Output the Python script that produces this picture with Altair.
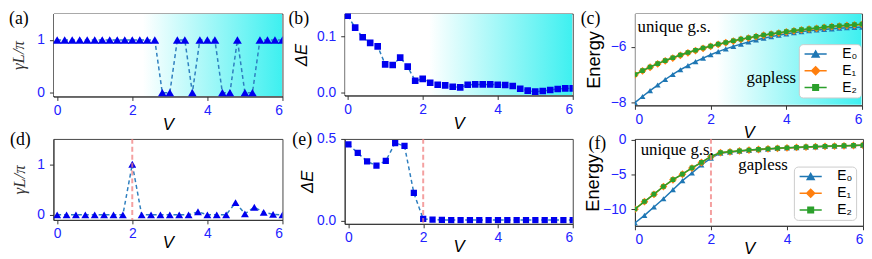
import altair as alt
import pandas as pd

# ---------------- data ----------------
V31 = [0.0, 0.2, 0.4, 0.6, 0.8, 1.0, 1.2, 1.4, 1.6, 1.8, 2.0, 2.2, 2.4, 2.6, 2.8, 3.0,
       3.2, 3.4, 3.6, 3.8, 4.0, 4.2, 4.4, 4.6, 4.8, 5.0, 5.2, 5.4, 5.6, 5.8, 6.0]
V25 = [0.0, 0.25, 0.5, 0.75, 1.0, 1.25, 1.5, 1.75, 2.0, 2.25, 2.5, 2.75, 3.0, 3.25,
       3.5, 3.75, 4.0, 4.25, 4.5, 4.75, 5.0, 5.25, 5.5, 5.75, 6.0]

gamma_a = [1, 1, 1, 1, 1, 1, 1, 1, 1, 1, 1, 1, 1, 1, 0, 0, 1, 1, 0, 1, 1, 1, 0, 0, 1,
           0, 0, 1, 1, 1, 1]
dE_b = [0.136, 0.115, 0.098, 0.088, 0.082, 0.050, 0.049, 0.062, 0.046, 0.021, 0.0245,
        0.0175, 0.014, 0.013, 0.0105, 0.0094, 0.014, 0.0146, 0.0146, 0.0146, 0.014,
        0.0135, 0.0117, 0.007, 0.0035, 0.0018, 0.003, 0.0047, 0.0064, 0.0076, 0.0076]
c_E0 = [-8.0, -7.78, -7.57, -7.37, -7.17, -6.99, -6.82, -6.67, -6.53, -6.40, -6.28,
        -6.17, -6.07, -5.98, -5.90, -5.82, -5.75, -5.69, -5.63, -5.58, -5.53, -5.49,
        -5.45, -5.42, -5.39, -5.37, -5.35, -5.33, -5.31, -5.30, -5.29]
c_E1 = [-7.0, -6.86, -6.73, -6.61, -6.50, -6.40, -6.30, -6.21, -6.13, -6.05, -5.98,
        -5.91, -5.85, -5.79, -5.73, -5.68, -5.63, -5.58, -5.54, -5.50, -5.46, -5.42,
        -5.39, -5.36, -5.33, -5.30, -5.27, -5.25, -5.23, -5.21, -5.19]
c_E2 = [-6.99, -6.85, -6.72, -6.60, -6.49, -6.39, -6.29, -6.20, -6.12, -6.04, -5.97,
        -5.90, -5.84, -5.78, -5.72, -5.67, -5.62, -5.57, -5.53, -5.49, -5.45, -5.41,
        -5.38, -5.35, -5.32, -5.29, -5.26, -5.24, -5.22, -5.20, -5.18]

gamma_d = [0, 0, 0, 0, 0, 0, 0, 0, 1.0, 0, 0, 0, 0, 0, 0, 0.06, 0, 0, 0, 0.24, 0.02,
           0.15, 0.05, 0.01, 0.0]
dE_e = [0.467, 0.414, 0.362, 0.337, 0.366, 0.475, 0.457, 0.169, 0.010, 0.006, 0.004,
        0.003, 0.003, 0.003, 0.003, 0.003, 0.003, 0.003, 0.003, 0.003, 0.003, 0.003,
        0.003, 0.003, 0.003]
f_E0 = [-12.0, -10.9, -9.7, -8.5, -7.2, -5.9, -4.8, -3.64, -2.67, -1.95, -1.80, -1.66,
        -1.54, -1.45, -1.36, -1.28, -1.21, -1.15, -1.09, -1.04, -0.99, -0.94, -0.90,
        -0.86, -0.82]
f_E1 = [-10.0, -8.93, -7.87, -6.76, -5.78, -4.98, -4.09, -3.29, -2.44, -1.88, -1.76,
        -1.63, -1.51, -1.42, -1.33, -1.25, -1.19, -1.13, -1.07, -1.02, -0.97, -0.93,
        -0.89, -0.85, -0.81]
f_E2 = [-9.98, -8.91, -7.85, -6.74, -5.76, -4.96, -4.07, -3.27, -2.42, -1.86, -1.74,
        -1.61, -1.49, -1.40, -1.31, -1.23, -1.17, -1.11, -1.05, -1.00, -0.95, -0.91,
        -0.87, -0.83, -0.79]

series_names = ["E\u2080", "E\u2081", "E\u2082"]
series_colors = ["#1f77b4", "#ff7f0e", "#2ca02c"]
series_shapes = ["triangle-up", "diamond", "square"]
series_sizes = [36, 62, 22]
x_ticks = [0, 2, 4, 6]

# ---------------- style ----------------
BLUE = "#0000ee"
LINE = "#2f7fbf"
CYAN = "#3ef0f0"
SANS = "Liberation Sans"
SERIF = "Liberation Serif"
one = pd.DataFrame({"k": [0]})

leg_paths = [
    "M-3.2,0H3.2M0,-0.866L-1,0.866L1,0.866Z",
    "M-3.2,0H3.2M-1.15,0L0,-1.15L1.15,0L0,1.15Z",
    "M-3.2,0H3.2M-0.8,-0.8H0.8V0.8H-0.8Z",
]


def xscale(dom):
    return alt.Scale(domain=dom, nice=False, zero=False)


def xaxis(tpad):
    return alt.Axis(title="V", titleFontStyle="italic", values=x_ticks, format="d",
                    labelPadding=3, titlePadding=tpad)


def background(w, h, start):
    grad = alt.LinearGradient(
        gradient="linear",
        stops=[alt.GradientStop(color="white", offset=0),
               alt.GradientStop(color="white", offset=start),
               alt.GradientStop(color=CYAN, offset=1)],
        x1=0, x2=1, y1=0, y2=0)
    return alt.Chart(one).mark_rect(fill=grad, strokeWidth=0).encode(
        x=alt.value(0.5), x2=alt.value(w - 0.5), y=alt.value(0.5), y2=alt.value(h - 0.5))


def label(txt, dx, dy):
    return alt.Chart(one).mark_text(text=txt, font=SERIF, fontSize=18, align="left",
                                    baseline="top", color="black").encode(
        x=alt.value(dx), y=alt.value(dy))


def note(txt, xv, yv):
    return alt.Chart(one).mark_text(text=txt, font=SERIF, fontSize=17, align="left",
                                    baseline="alphabetic", color="black").encode(
        x=alt.datum(xv), y=alt.datum(yv))


def vline():
    return alt.Chart(one).mark_rule(color="#f08080", opacity=0.75, strokeWidth=2,
                                    strokeDash=[5, 3]).encode(x=alt.datum(2))


def dashed_series(xs, ys, shape, size, xdom, ydom, yaxis, tpad):
    df = pd.DataFrame({"V": xs, "y": ys})
    enc = dict(x=alt.X("V:Q", scale=xscale(xdom), axis=xaxis(tpad)),
               y=alt.Y("y:Q", scale=alt.Scale(domain=ydom, nice=False, zero=False), axis=yaxis))
    line = alt.Chart(df).mark_line(color=LINE, strokeWidth=1.5, strokeDash=[4, 3],
                                   clip=True).encode(**enc)
    pts = alt.Chart(df).mark_point(shape=shape, size=size, filled=True, color=BLUE,
                                   opacity=1, clip=True).encode(**enc)
    return [line, pts]


def energy_series(xs, ys_list, xdom, ydom, yaxis, tpad):
    layers = []
    for i, ys in enumerate(ys_list):
        df = pd.DataFrame({"V": xs, "y": ys})
        enc = dict(x=alt.X("V:Q", scale=xscale(xdom), axis=xaxis(tpad)),
                   y=alt.Y("y:Q", scale=alt.Scale(domain=ydom, nice=False, zero=False),
                           axis=yaxis))
        layers.append(alt.Chart(df).mark_line(color=series_colors[i], strokeWidth=1.5,
                                              clip=True).encode(**enc))
        layers.append(alt.Chart(df).mark_point(shape=series_shapes[i], size=series_sizes[i],
                                               filled=True, color=series_colors[i],
                                               opacity=1, clip=True).encode(**enc))
    return layers


def legend_layer(lx, ly):
    leg = alt.Legend(title=None, orient="none", legendX=lx, legendY=ly,
                     fillColor="white", strokeColor="#cccccc", cornerRadius=4, padding=3,
                     symbolSize=49, symbolStrokeWidth=1.5, symbolOffset=7, labelOffset=20,
                     labelFont=SANS, labelFontSize=14, labelColor="black", rowPadding=2)
    df = pd.DataFrame({"s": series_names})
    return alt.Chart(df).mark_point(filled=True, opacity=1, strokeWidth=1.5).encode(
        fill=alt.Fill("s:N", scale=alt.Scale(domain=series_names, range=series_colors), legend=leg),
        stroke=alt.Stroke("s:N", scale=alt.Scale(domain=series_names, range=series_colors), legend=leg),
        shape=alt.Shape("s:N", scale=alt.Scale(domain=series_names, range=leg_paths), legend=leg),
    ).transform_filter("false")


def gamma_axis(pad):
    return alt.Axis(title="\u03b3L/\u03c0", values=[0, 1], format="d", titleFont=SERIF,
                    titleFontStyle="italic", titleFontSize=17, titleColor="#333333",
                    titlePadding=pad, labelPadding=5)


def energy_axis(vals, pad):
    return alt.Axis(title="Energy", values=vals, format="d", titleFontSize=18.5,
                    titlePadding=pad, labelPadding=5)


# ---------------- panels ----------------
Wa, Ha = 232, 84
Wb, Hb = 231, 83
Wc, Hc = 230, 93
Wd, Hd = 232, 82
We, He = 231, 86
Wf, Hf = 231, 88
T1, T2 = -1, -6

pa = alt.layer(
    background(Wa, Ha, 0.39),
    *dashed_series(V31, gamma_a, "triangle-up", 80, [-0.1, 6.0], [-0.07, 1.5],
                   gamma_axis(10), T1),
    label("(a)", -45, -3),
).properties(width=Wa, height=Ha)

pb = alt.layer(
    background(Wb, Hb, 0.37),
    *dashed_series(V31, dE_b, "square", 45, [-0.08, 6.0], [-0.005, 0.14],
                   alt.Axis(title="\u0394E", values=[0, 0.1], format=".1f",
                            titleFontStyle="italic", titlePadding=6, labelPadding=5), T1),
    label("(b)", -57, -3),
).properties(width=Wb, height=Hb)

pc = alt.layer(
    background(Wc, Hc, 0.36),
    *energy_series(V31, [c_E0, c_E1, c_E2], [0, 6], [-8.1, -4.8],
                   energy_axis([-8, -6], 7), T1),
    note("unique g.s.", 0.07, -5.45),
    note("gapless", 2.95, -7.3),
    legend_layer(166, 31),
    label("(c)", -55, -3),
).properties(width=Wc, height=Hc)

pd_ = alt.layer(
    *dashed_series(V25, gamma_d, "triangle-up", 64, [-0.1, 6.0], [-0.1, 1.5],
                   gamma_axis(8), T2),
    vline(),
    label("(d)", -44, -8),
).properties(width=Wd, height=Hd)

pe = alt.layer(
    *dashed_series(V25, dE_e, "square", 40, [-0.1, 6.0], [-0.02, 0.5],
                   alt.Axis(title="\u0394E", values=[0, 0.5], format=".1f",
                            titleFontStyle="italic", titlePadding=0, labelPadding=5), T2),
    vline(),
    label("(e)", -53, -8),
).properties(width=We, height=He)

pf = alt.layer(
    *energy_series(V25, [f_E0, f_E1, f_E2], [0, 6], [-12.4, 0.1],
                   energy_axis([-10, -5, 0], 0), T2),
    vline(),
    note("unique g.s.", 0.15, -2.2),
    note("gapless", 2.72, -4.3),
    legend_layer(161, 28),
    label("(f)", -47, -4),
).properties(width=Wf, height=Hf)

chart = alt.concat(
    pa, pb, pc, pd_, pe, pf, columns=3, spacing={"row": 34, "column": 63}, bounds="flush"
).resolve_scale(
    fill="independent", stroke="independent", shape="independent"
).resolve_legend(
    fill="independent", stroke="independent", shape="independent"
).properties(padding=0).configure_view(
    stroke="#444444", strokeWidth=1
).configure_axis(
    labelColor="#2222ff", labelFont=SANS, labelFontSize=14, tickColor="#333333",
    tickSize=4, domainColor="#333333", grid=False, titleFont=SANS, titleFontSize=17,
    titleFontWeight="normal", titleColor="black"
)

chart.save("out.html", embed_options={"renderer": "svg", "actions": False})
